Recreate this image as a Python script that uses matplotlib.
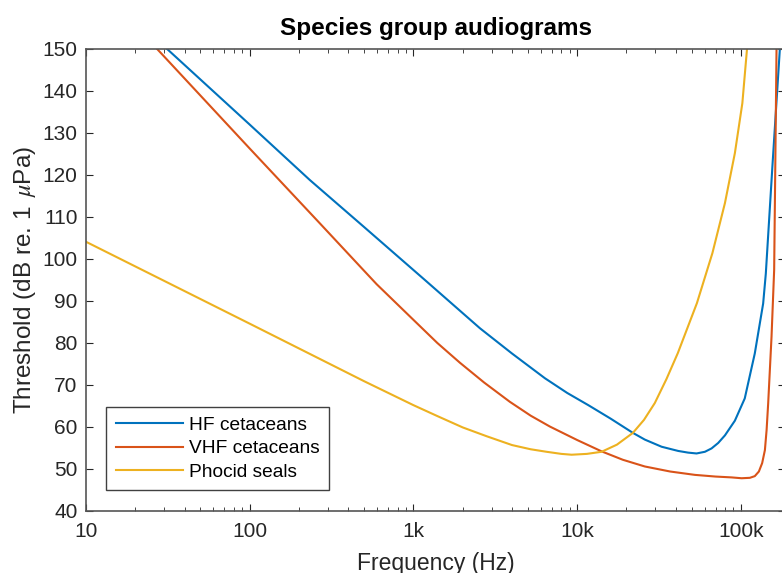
import matplotlib
matplotlib.use('Agg')
import matplotlib.pyplot as plt
from matplotlib.ticker import FixedLocator, LogLocator, NullFormatter

# --- data (Hz, dB re 1 uPa) ---
hf_freq = [31.3, 100, 233, 500, 1175, 2550, 4000, 6360, 8700, 11700, 16000,
           21900, 25900, 32800, 41400, 47600, 53600, 60300, 66200, 72700,
           79900, 91900, 105600, 121600, 136800, 142000, 156000, 173000]
hf_thr = [150, 132.0, 118.8, 107.6, 95.0, 83.5, 77.5, 71.6, 68.1, 65.2, 62.0,
          58.6, 57.0, 55.3, 54.3, 53.9, 53.7, 54.1, 54.9, 56.2,
          58.0, 61.5, 66.8, 77.5, 89.4, 96.5, 122.4, 150]

vhf_freq = [27.2, 100, 268, 494, 596, 953, 1400, 1923, 2700, 3880, 5200, 6820,
            10000, 14100, 19000, 25900, 37000, 52400, 70000, 87700, 101000,
            113500, 121600, 128800, 134900, 140200, 143600, 146800, 153900,
            159700, 162400, 165100]
vhf_thr = [150, 126.3, 108.5, 97.4, 94.0, 86.3, 80.0, 75.3, 70.6, 66.0, 62.7, 60.1,
           56.9, 54.2, 52.2, 50.6, 49.4, 48.6, 48.2, 48.0, 47.8,
           47.9, 48.3, 49.4, 51.4, 54.5, 59.3, 65.6, 81.5,
           97.4, 123.6, 150]

pw_freq = [10, 30, 100, 233, 500, 1000, 1400, 2000, 2800, 4000, 5200, 6500,
           8000, 9250, 11470, 14100, 17500, 21900, 25600, 29800, 35100, 41200,
           53900, 67000, 79900, 91900, 102100, 109000]
pw_thr = [104.1, 94.8, 84.6, 77.4, 70.9, 65.2, 62.6, 59.9, 57.8, 55.7, 54.7, 54.1,
          53.6, 53.4, 53.6, 54.1, 55.8, 58.6, 61.7, 65.7, 71.4, 77.6,
          89.5, 101.4, 113.3, 125.2, 137.1, 150]

labels = ['HF cetaceans', 'VHF cetaceans', 'Phocid seals']
colors = ['#0072BD', '#D95319', '#EDB120']

xticks = [10, 100, 1e3, 1e4, 1e5]
xticklabels = ['10', '100', '1k', '10k', '100k']
yticks = list(range(40, 151, 10))

plt.rcParams['font.family'] = ['Liberation Sans', 'DejaVu Sans']
plt.rcParams['mathtext.fontset'] = 'stix'

fig = plt.figure(figsize=(7.82, 5.73), dpi=100)
ax = fig.add_axes([86 / 782, 62 / 573, 699 / 782, 462 / 573])

for f, t, lab, c in zip([hf_freq, vhf_freq, pw_freq], [hf_thr, vhf_thr, pw_thr], labels, colors):
    ax.plot(f, t, color=c, lw=1.5, label=lab)

ax.set_xscale('log')
ax.set_xlim(10, 186000)
ax.set_ylim(40, 150)

ax.xaxis.set_major_locator(FixedLocator(xticks))
ax.set_xticklabels(xticklabels)
ax.xaxis.set_minor_locator(LogLocator(base=10, subs=range(2, 10)))
ax.xaxis.set_minor_formatter(NullFormatter())
ax.set_yticks(yticks)

ax.tick_params(which='both', direction='in', top=True, right=True,
               color='#262626', labelcolor='#262626', labelsize=15)
ax.tick_params(axis='x', which='major', length=5, pad=8)
ax.tick_params(axis='y', which='major', length=5, pad=6)
ax.tick_params(which='minor', length=3)
for s in ax.spines.values():
    s.set_color('#555555')
    s.set_linewidth(1.2)

ax.set_title('Species group audiograms', fontsize=17.5, fontweight='bold', pad=10)
ax.set_xlabel('Frequency (Hz)', fontsize=16.5, color='#262626', labelpad=8)
ax.set_ylabel(r'Threshold (dB re. 1 $\,\mu$Pa)', fontsize=17.5, color='#262626', labelpad=3)

leg = ax.legend(loc='lower left', bbox_to_anchor=(0.029, 0.045), borderaxespad=0,
                fontsize=13.8, handlelength=3.5, handletextpad=0.32,
                labelspacing=0.31, borderpad=0.5, fancybox=False, framealpha=1)
leg.get_frame().set_edgecolor('#404040')
leg.get_frame().set_linewidth(1.0)

fig.savefig('out.png', dpi=100)
